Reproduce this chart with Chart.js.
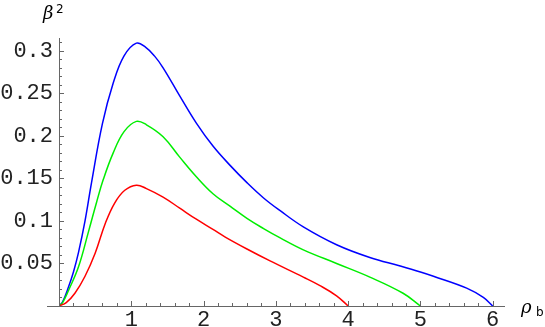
<!DOCTYPE html>
<html lang="en">
<head>
    <meta charset="UTF-8">
    <title>beta squared vs rho_b</title>
    <script src="https://cdn.jsdelivr.net/npm/chart.js"></script>
    <style>
        body { margin: 0; background: #fff; }
    </style>
</head>
<body>
    <canvas id="myChart" width="545" height="327"></canvas>
    <script>
        // values
        const xTicks = [1, 2, 3, 4, 5, 6];
        const xTickLabels = ['1', '2', '3', '4', '5', '6'];
        const yTicks = [0.05, 0.1, 0.15, 0.2, 0.25, 0.3];
        const yTickLabels = ['0.05', '0.1', '0.15', '0.2', '0.25', '0.3'];

        const blueX = [0, 0.05, 0.13, 0.2, 0.27, 0.36, 0.45, 0.6, 0.75, 0.9, 1.07, 1.2, 1.32, 1.44, 1.67, 1.9, 2.13, 2.37, 2.6, 2.83, 3.06, 3.38, 3.84, 4.3, 4.72, 5.0, 5.18, 5.64, 5.87, 6];
        const blueY = [0, 0.005, 0.022, 0.040, 0.063, 0.100, 0.145, 0.214, 0.262, 0.294, 0.309, 0.304, 0.294, 0.280, 0.247, 0.215, 0.188, 0.165, 0.145, 0.127, 0.112, 0.093, 0.072, 0.057, 0.047, 0.040, 0.035, 0.021, 0.010, 0];

        const greenX = [0, 0.05, 0.13, 0.27, 0.41, 0.52, 0.61, 0.75, 0.9, 1.07, 1.21, 1.44, 1.67, 1.9, 2.13, 2.37, 2.6, 2.83, 3.06, 3.38, 3.84, 4.3, 4.76, 5];
        const greenY = [0, 0.004, 0.018, 0.046, 0.088, 0.122, 0.148, 0.180, 0.205, 0.217, 0.213, 0.199, 0.175, 0.152, 0.132, 0.117, 0.103, 0.091, 0.080, 0.066, 0.050, 0.034, 0.015, 0];

        const redX = [0, 0.1, 0.22, 0.36, 0.5, 0.64, 0.77, 0.91, 1.07, 1.21, 1.44, 1.67, 1.9, 2.13, 2.3, 2.6, 2.92, 3.38, 3.61, 3.84, 4];
        const redY = [0, 0.004, 0.015, 0.035, 0.062, 0.097, 0.121, 0.136, 0.142, 0.138, 0.128, 0.115, 0.102, 0.090, 0.081, 0.067, 0.053, 0.034, 0.024, 0.012, 0];

        const toPoints = (xs, ys) => xs.map((x, i) => ({ x: x, y: ys[i] }));

        const axisColor = '#666';

        // Mathematica-style axes: lines through origin, ticks pointing inward
        const axesPlugin = {
            id: 'axes',
            afterDatasetsDraw(chart) {
                const ctx = chart.ctx;
                const xs = chart.scales.x;
                const ys = chart.scales.y;
                const x0 = xs.getPixelForValue(0);
                const y0 = ys.getPixelForValue(0);
                ctx.save();
                ctx.strokeStyle = axisColor;
                ctx.lineWidth = 1;
                ctx.beginPath();
                ctx.moveTo(x0 - 12, y0 + 0.5);
                ctx.lineTo(xs.getPixelForValue(6.17), y0 + 0.5);
                ctx.moveTo(x0 + 0.5, y0);
                ctx.lineTo(x0 + 0.5, ys.getPixelForValue(0.315));
                ctx.stroke();

                ctx.beginPath();
                for (let i = 1; i <= 30; i++) {
                    const px = Math.round(xs.getPixelForValue(i * 0.2)) + 0.5;
                    const len = i % 5 === 0 ? 5 : 3;
                    ctx.moveTo(px, y0);
                    ctx.lineTo(px, y0 - len);
                }
                for (let i = 1; i <= 31; i++) {
                    const py = Math.round(ys.getPixelForValue(i * 0.01)) + 0.5;
                    const len = i % 5 === 0 ? 5 : 3;
                    ctx.moveTo(x0, py);
                    ctx.lineTo(x0 + len, py);
                }
                ctx.stroke();

                // axis labels
                ctx.fillStyle = '#000';
                ctx.textBaseline = 'alphabetic';
                ctx.font = 'italic 18px "DejaVu Serif"';
                ctx.fillText('\u03b2', 43, 19);
                ctx.font = '12px "DejaVu Sans"';
                ctx.fillText('2', 56, 13);
                ctx.font = 'italic 18px "DejaVu Serif"';
                ctx.fillText('\u03c1', 521, 313);
                ctx.font = '12px "DejaVu Sans"';
                ctx.fillText('b', 536, 316);
                ctx.restore();
            }
        };

        const ctx = document.getElementById('myChart');
        const myChart = new Chart(ctx, {
            type: 'line',
            data: {
                datasets: [{
                    data: toPoints(redX, redY),
                    borderColor: '#ff0000'
                }, {
                    data: toPoints(greenX, greenY),
                    borderColor: '#00ee00'
                }, {
                    data: toPoints(blueX, blueY),
                    borderColor: '#0000ff'
                }]
            },
            options: {
                responsive: false,
                animation: false,
                layout: { padding: { top: 38, right: 40, left: 0, bottom: 0 } },
                elements: {
                    point: { radius: 0 },
                    line: { borderWidth: 1.5, tension: 0.4, fill: false }
                },
                plugins: { legend: { display: false }, tooltip: { enabled: false } },
                scales: {
                    x: {
                        type: 'linear',
                        min: 0,
                        max: 6.17,
                        grid: { display: false, drawTicks: false },
                        border: { display: false },
                        afterFit: (scale) => { scale.height = 21; },
                        afterBuildTicks: (scale) => { scale.ticks = xTicks.map(v => ({ value: v })); },
                        ticks: {
                            padding: 1,
                            color: '#222',
                            font: { family: 'Liberation Mono', size: 22 },
                            callback: (v) => xTickLabels[xTicks.indexOf(v)]
                        }
                    },
                    y: {
                        min: 0,
                        max: 0.315,
                        grid: { display: false, drawTicks: false },
                        border: { display: false },
                        afterFit: (scale) => { scale.width = 59; },
                        afterBuildTicks: (scale) => { scale.ticks = yTicks.map(v => ({ value: v })); },
                        ticks: {
                            padding: 6,
                            color: '#222',
                            font: { family: 'Liberation Mono', size: 22 },
                            callback: (v) => yTickLabels[yTicks.indexOf(v)]
                        }
                    }
                }
            },
            plugins: [axesPlugin]
        });
    </script>
</body>
</html>
